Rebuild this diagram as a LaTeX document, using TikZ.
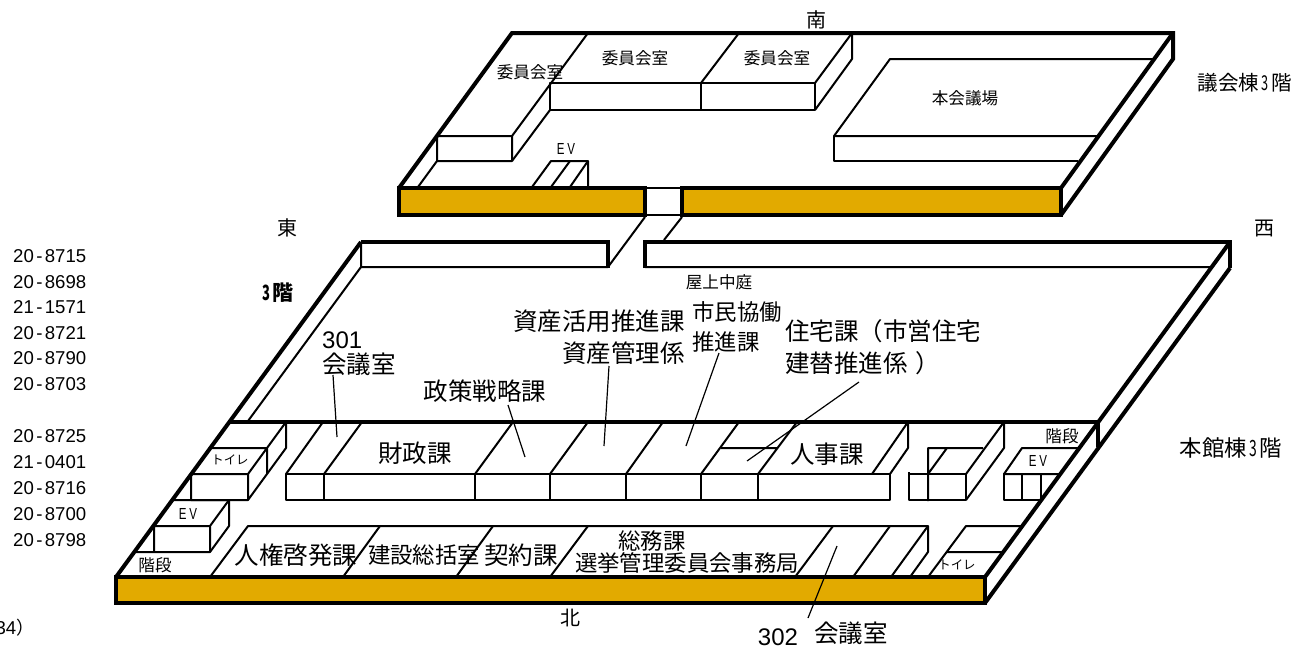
\documentclass[tikz,border=0pt]{standalone}
\usepackage{fontspec}
\usetikzlibrary{positioning}
\setmainfont{Liberation Sans}
\newfontfamily\jpfont{Noto Sans CJK JP}
\definecolor{roofgold}{HTML}{E2AA00}
\newcommand{\telno}[2]{#1\kern2.4pt-\kern2.4pt#2}
\newcommand{\narrowdigit}{\kern2.6pt\scalebox{.62}[1]{3}\kern2.6pt}
\tikzset{
  wall/.style={line width=4pt, line join=miter},
  room/.style={line width=2pt, line join=round},
  leader/.style={line width=1.2pt},
  lab/.style={inner sep=0pt, font=\jpfont\fontsize{16.6}{18}\selectfont},
  biglab/.style={inner sep=0pt, font=\jpfont\fontsize{24.5}{26}\selectfont},
  midlab/.style={inner sep=0pt, font=\jpfont\fontsize{22.4}{24}\selectfont},
  dirlab/.style={inner sep=0pt, font=\jpfont\fontsize{20}{22}\selectfont},
  kana/.style={inner sep=0pt, font=\jpfont\fontsize{12.4}{14}\selectfont},
  evlab/.style={inner sep=0pt, font=\fontsize{16}{18}\selectfont, xscale=.72, transform shape},
  floorlab/.style={inner sep=0pt, font=\jpfont\fontsize{20.5}{22}\selectfont},
  tel/.style={inner sep=0pt, anchor=north west, text height=13pt, text depth=0pt,
    font=\fontsize{18.6}{20}\selectfont},
  numlab/.style={inner sep=0pt, font=\fontsize{24}{26}\selectfont}
}
\begin{document}
\begin{tikzpicture}[x=1pt, y=-1pt, node distance=12.1pt]
  \useasboundingbox (0,0) rectangle (1301,648);
  \clip (0,0) rectangle (1301,648);
  % Council building
  \fill[roofgold] (399,188) rectangle (645,215);
  \fill[roofgold] (682,188) rectangle (1061,215);
  \draw[wall] (399,188) rectangle (645,215);
  \draw[wall] (682,188) rectangle (1061,215);
  \draw[room] (645,188) -- (682,188) (645,215) -- (682,215);
  \draw[wall] (399,188) -- (512,33) -- (1173,33) -- (1173,59) -- (1061,215);
  \draw[wall] (1061,188) -- (1173,33);
  % Council rooms
  \draw[room] (588,33) -- (512,136) (437,136) rectangle (512,161);
  \draw[room] (512,161) -- (550,110) (437,161) -- (418,187);
  \draw[room] (550,83) rectangle (815,110) (701,83) -- (701,110);
  \draw[room] (701,83) -- (739,33) (815,83) -- (852,33) -- (852,59) -- (815,110);
  \draw[room] (532,187) -- (551,161) -- (588,161) -- (588,187);
  \draw[room] (551,187) -- (570,161) (570,187) -- (588,161);
  \draw[room] (1154,59) -- (890,59) -- (834,136) -- (1098,136);
  \draw[room] (834,136) -- (834,161) -- (1078,161);
  % Main building roof garden
  \draw[wall] (361,242) -- (608,242) -- (608,268);
  \draw[wall] (645,268) -- (645,242) -- (1230,242) -- (1230,268);
  \draw[room] (361,242) -- (361,267) -- (608,267) -- (645,217);
  \draw[room] (645,267) -- (1210,267) (664,240) -- (682,217);
  \draw[room] (361,267) -- (248,421);
  % Main building
  \fill[roofgold] (116,577) rectangle (985,603);
  \draw[wall] (116,577) rectangle (985,603);
  \draw[wall] (116,577) -- (361,242) (985,577) -- (1230,242) (985,603) -- (1230,268);
  \draw[wall] (229,422) -- (1098,422) -- (1098,447);
  % East side rooms
  \draw[room] (229,422) -- (286,422) -- (286,448) -- (248,500) -- (191,500) -- (191,474) -- (248,474) -- (248,500);
  \draw[room] (210,448) -- (267,448) -- (267,474) (286,422) -- (248,474);
  \draw[room] (173,500) -- (229,500) -- (229,526) -- (210,552) -- (135,552);
  \draw[room] (154,526) -- (210,526) -- (210,552) (154,526) -- (154,552) (229,500) -- (210,526);
  % North row of the offices
  \draw[room] (286,474) rectangle (890,500);
  \draw[room] (324,474) -- (324,500) (475,474) -- (475,500) (550,474) -- (550,500);
  \draw[room] (626,474) -- (626,500) (701,474) -- (701,500) (758,474) -- (758,500);
  \draw[room] (286,474) -- (323,422) (324,474) -- (362,422) (475,474) -- (513,422);
  \draw[room] (550,474) -- (588,422) (626,474) -- (663,422) (701,474) -- (739,422);
  \draw[room] (758,474) -- (797,422) (721,448) -- (777,448);
  \draw[room] (872,474) -- (908,422) -- (908,448) -- (890,474);
  % West side rooms
  \draw[room] (909,472) -- (909,500) -- (966,500) -- (966,474) -- (909,474);
  \draw[room] (928,501) -- (928,448) -- (983,448) (947,448) -- (928,474);
  \draw[room] (966,474) -- (1004,422) -- (1004,448) -- (966,500);
  \draw[room] (1079,448) -- (1022,448) -- (1004,474) -- (1060,474);
  \draw[room] (1004,474) rectangle (1041,500) (1022,474) -- (1022,500);
  \draw[room] (1023,526) -- (966,526) -- (928,577) (1004,552) -- (947,552);
  % South row of the offices
  \draw[room] (210,577) -- (248,526) -- (928,526) -- (928,552) -- (910,577);
  \draw[room] (343,577) -- (380,526) (456,577) -- (493,526) (550,577) -- (588,526);
  \draw[room] (795,577) -- (833,526) (853,577) -- (890,526) (891,577) -- (928,526);
  % Council labels
  \node[dirlab] (minami) at (816,20) {南};
  \node[lab] (iin1) at (530,72) {委員会室};
  \node[lab] (iin2) at (635,58) {委員会室};
  \node[lab] (iin3) at (777,58) {委員会室};
  \node[lab] (honkai) at (965,98) {本会議場};
  \node[evlab] (ev1) at (566,149) {E\kern4pt V};
  \node[floorlab] (gikai) at (1245,83) {議会棟\narrowdigit 階};
  % Main building labels
  \node[dirlab] (higashi) at (287,228) {東};
  \node[dirlab] (nishi) at (1264,229) {西};
  \node[dirlab] (kita) at (570,618) {北};
  \node[floorlab, font=\jpfont\bfseries\fontsize{21}{23}\selectfont] (sankai) at (278,293) {\scalebox{.62}[1]{3}\kern2pt 階};
  \node[lab] (okujo) at (719,282) {屋上中庭};
  \node[floorlab, font=\jpfont\fontsize{22.4}{24}\selectfont] (honkan) at (1231,448) {本館棟\narrowdigit 階};
  \node[numlab, anchor=west] (n301) at (322,340) {301};
  \node[biglab, below=4pt of n301.south west, anchor=north west] (kaigi1) {会議室};
  \node[biglab] (seisaku) at (485,391) {政策戦略課};
  \node[biglab, anchor=east] (katsuyo) at (685,321) {資産活用推進課};
  \node[biglab, anchor=east] (kanri) at (685,353) {資産管理係};
  \node[midlab, anchor=west] (shimin) at (692,312) {市民協働};
  \node[midlab, anchor=west] (suishin) at (692,342) {推進課};
  \node[biglab, anchor=west] (jutaku) at (785,331) {住宅課（市営住宅};
  \node[biglab, anchor=west] (tatekae) at (785,363) {建替推進係\kern8pt）};
  \node[biglab] (zaisei) at (415,453) {財政課};
  \node[biglab] (jinji) at (827,454) {人事課};
  \node[biglab] (jinken) at (296,555) {人権啓発課};
  \node[midlab] (kensetsu) at (424,555) {建設総括室};
  \node[biglab] (keiyaku) at (521,555) {契約課};
  \node[midlab] (somu) at (652,541) {総務課};
  \node[midlab] (senkyo) at (687,563) {選挙管理委員会事務局};
  \node[numlab] (n302) at (778,637) {302};
  \node[biglab] (kaigi2) at (851,633) {会議室};
  \node[lab] (kaidan1) at (155,565) {階段};
  \node[lab] (kaidan2) at (1062,436) {階段};
  \node[kana] (toire1) at (230,460) {トイレ};
  \node[kana] (toire2) at (957,565) {トイレ};
  \node[evlab] (ev2) at (188,514) {E\kern4pt V};
  \node[evlab] (ev3) at (1038,461) {E\kern4pt V};
  % Telephone numbers
  \node[tel] (t1) at (13,249.5) {\telno{20}{8715}};
  \node[tel, below=of t1.south west, anchor=north west] (t2) {\telno{20}{8698}};
  \node[tel, below=of t2.south west, anchor=north west] (t3) {\telno{21}{1571}};
  \node[tel, below=of t3.south west, anchor=north west] (t4) {\telno{20}{8721}};
  \node[tel, below=of t4.south west, anchor=north west] (t5) {\telno{20}{8790}};
  \node[tel, below=of t5.south west, anchor=north west] (t6) {\telno{20}{8703}};
  \node[tel, below=39.2pt of t6.south west, anchor=north west] (t7) {\telno{20}{8725}};
  \node[tel, below=12.6pt of t7.south west, anchor=north west] (t8) {\telno{21}{0401}};
  \node[tel, below=12.6pt of t8.south west, anchor=north west] (t9) {\telno{20}{8716}};
  \node[tel, below=12.6pt of t9.south west, anchor=north west] (t10) {\telno{20}{8700}};
  \node[tel, below=12.6pt of t10.south west, anchor=north west] (t11) {\telno{20}{8798}};
  \node[tel] (tail) at (-4.6,621) {34{\jpfont\fontsize{18}{20}\selectfont ）}};
  % Leader lines
  \coordinate (e301) at (337,437);
  \coordinate (eseisaku) at (525,457);
  \coordinate (ekanri) at (604,446);
  \coordinate (eshimin) at (686,446);
  \coordinate (ejutaku) at (747,461);
  \coordinate (e302) at (837,546);
  \draw[leader] (333,375) -- (e301);
  \draw[leader] (508,405) -- (eseisaku);
  \draw[leader] (609,366) -- (ekanri);
  \draw[leader] (719,353) -- (eshimin);
  \draw[leader] (859,382) -- (ejutaku);
  \draw[leader] (808,618) -- (e302);
\end{tikzpicture}
\end{document}
